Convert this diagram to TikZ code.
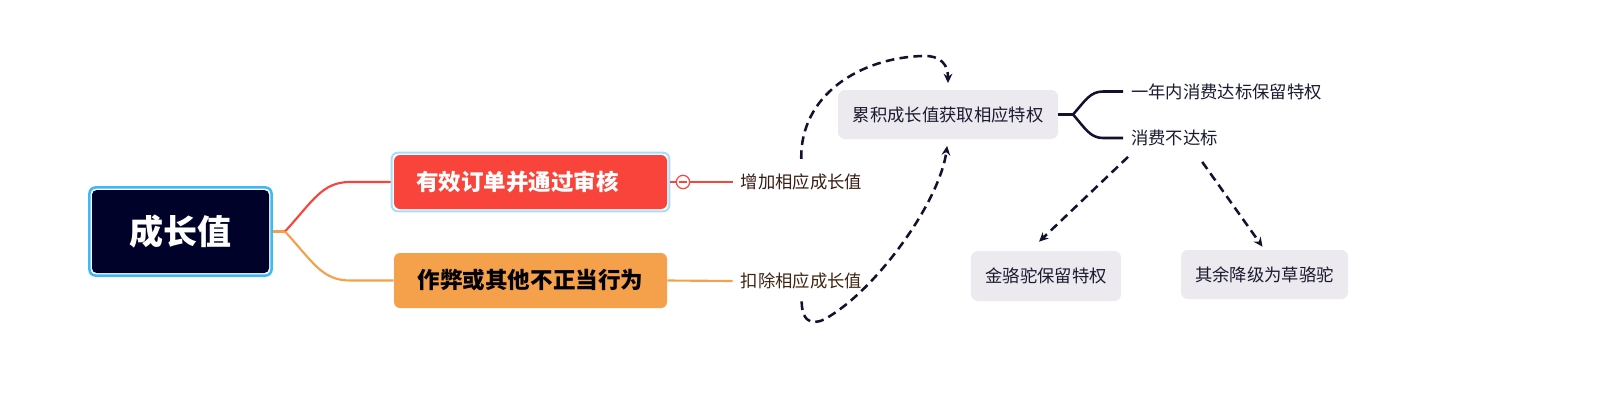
\documentclass[tikz,border=0pt]{standalone}
\usepackage{fontspec}
\setmainfont{Noto Sans CJK SC}
\usetikzlibrary{arrows.meta,fit,calc}
\definecolor{rootfill}{HTML}{010229}
\definecolor{rootframe}{HTML}{3BBAF5}
\definecolor{redfill}{HTML}{F9443B}
\definecolor{redframe}{HTML}{A8DCF8}
\definecolor{orangefill}{HTML}{F5A04A}
\definecolor{grayfill}{HTML}{ECEAEE}
\definecolor{darkln}{HTML}{12122F}
\definecolor{lblred}{HTML}{3A1C14}
\definecolor{lblorange}{HTML}{3F2410}
\definecolor{lbldark}{HTML}{1A1A30}
\begin{document}
\begin{tikzpicture}[x=0.75pt,y=-0.75pt,
  rootbox/.style={fill=rootfill, rounded corners=3.5pt, minimum width=132.75pt, minimum height=62.25pt, inner sep=0pt, text=white, font=\fontsize{25.5pt}{30pt}\selectfont\bfseries},
  frame/.style={draw, rounded corners=4.5pt, fill=none},
  redbox/.style={fill=redfill, rounded corners=4.5pt, minimum width=204.75pt, minimum height=40.5pt, inner sep=0pt, text=white, font=\fontsize{16.9pt}{20pt}\selectfont\bfseries},
  orangebox/.style={fill=orangefill, rounded corners=4.5pt, minimum width=204.75pt, minimum height=41.25pt, inner sep=0pt, text=black, font=\fontsize{16.9pt}{20pt}\selectfont\bfseries},
  graybox/.style={fill=grayfill, rounded corners=5pt, minimum width=165pt, minimum height=36.75pt, inner sep=0pt, text=lbldark, font=\fontsize{13pt}{16pt}\selectfont},
  lbl/.style={inner xsep=6pt, inner ysep=2pt, font=\fontsize{13pt}{16pt}\selectfont},
  redline/.style={draw=redfill, line width=1.6pt},
  orangeline/.style={draw=orangefill, line width=1.6pt},
  darkline/.style={draw=darkln, line width=1.9pt},
  dasharr/.style={draw=darkln, line width=1.9pt, dash pattern=on 6.5pt off 4pt, -{Stealth[length=7pt,width=6.5pt]}},
  collapse/.style={circle, draw=redfill, fill=white, line width=0.9pt, minimum size=10pt, inner sep=0pt,
    path picture={\draw[redfill, line width=0.9pt] ([xshift=-3pt]path picture bounding box.center) -- ([xshift=3pt]path picture bounding box.center);}}
]
\useasboundingbox (0,0) rectangle (1613,404);

% main nodes
\node[rootbox] (root) at (180.5,231.5) {成长值};
\node[frame, draw=rootframe, line width=1.9pt, inner sep=1.7pt, fit=(root)] (rootf) {};
\node[redbox] (red) at (530.5,182) {有效订单并通过审核\rule{19.5pt}{0pt}};
\node[frame, draw=redframe, line width=1.5pt, inner sep=1.5pt, fit=(red)] (redf) {};
\node[orangebox] (orange) at (530.5,280.5) {作弊或其他不正当行为};

% labels
\node[lbl, text=lblred] (inc) at (801.5,182) {增加相应成长值};
\node[lbl, text=lblorange] (dec) at (801.5,281) {扣除相应成长值};

% right part
\node[graybox] (acc) at (948,114.5) {累积成长值获取相应特权};
\node[lbl, anchor=west, text=lbldark] (keep) at (1123,91.5) {一年内消费达标保留特权};
\node[lbl, anchor=west, text=lbldark] (fail) at (1123,138) {消费不达标};
\node[graybox, minimum width=112.5pt, minimum height=37.5pt] (gold) at (1046,276) {金骆驼保留特权};
\node[graybox, minimum width=125.25pt] (rest) at (1264.5,274.5) {其余降级为草骆驼};

% left connectors
\coordinate (fork) at (285,231.5);
\draw[orangeline] (rootf.east) -- (fork);
\draw[redline] (fork) .. controls (313,201) and (322,182) .. (350,182) -- (redf.west);
\draw[orangeline] (fork) .. controls (313,262) and (322,280.5) .. (350,280.5) -- (orange.west);

% branch to labels
\draw[redline] (redf.east) -- (inc.west);
\node[collapse] (col) at (683,182) {};
\draw[orangeline] (orange.east) -- (dec.west);

% dashed relation curves
\draw[dasharr, shorten <=9pt, shorten >=5pt] (inc.north) .. controls (800,95) and (860,58) .. (922,56) .. controls (942,55) and (948,66) .. (acc.north);
\draw[dasharr, shorten <=7pt, shorten >=5pt] (dec.south) .. controls (802,325) and (815,326) .. (830,316) .. controls (880,285) and (940,200) .. (acc.south);

% right connectors
\coordinate (fork2) at (1073,114.5);
\draw[darkline] (acc.east) -- (fork2);
\draw[darkline] (fork2) .. controls (1085,101) and (1090,91.5) .. (1103,91.5) -- (keep.west);
\draw[darkline] (fork2) .. controls (1085,128) and (1090,138) .. (1103,138) -- (fail.west);

% dashed arrows to results
\draw[dasharr] ($(fail.south west)+(5,8)$) -- ($(gold.north)+(-7,-9)$);
\draw[dasharr] ($(fail.south east)+(-24,13)$) -- ($(rest.north)+(-2,-3)$);
\end{tikzpicture}
\end{document}
